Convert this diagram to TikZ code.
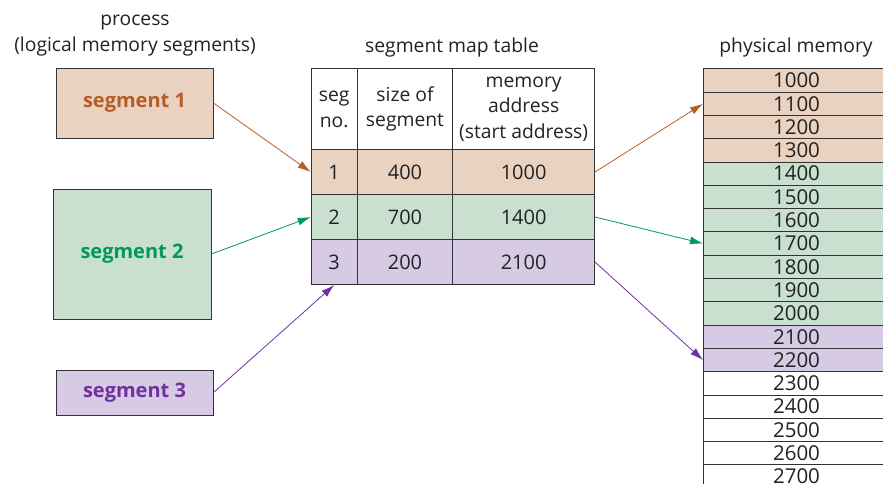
\documentclass[tikz,border=0pt]{standalone}
\usepackage{fontspec}
\setmainfont{Open Sans}
\usetikzlibrary{arrows.meta,positioning}
\definecolor{segink}{HTML}{333333}
\definecolor{segtext}{HTML}{222222}
\definecolor{segonefill}{HTML}{EAD2C0}
\definecolor{segoneink}{HTML}{B65D26}
\definecolor{segtwofill}{HTML}{C9DFCF}
\definecolor{segtwoink}{HTML}{00995A}
\definecolor{segthreefill}{HTML}{D6CAE4}
\definecolor{segthreeink}{HTML}{7030A0}
\tikzset{
  every picture/.style={font=\fontsize{19.3}{25.5}\selectfont,text=segtext},
  segbox/.style={rectangle,draw=segink,line width=1pt,inner sep=0pt,
    font=\fontsize{20}{22}\selectfont\bfseries},
  cell/.style={rectangle,draw=segink,line width=1pt,inner sep=0pt,
    anchor=north west,align=center},
  rowcell/.style={cell,minimum height=45pt,font=\fontsize{20}{20}\selectfont},
  memcell/.style={cell,minimum width=186pt,minimum height=23.3pt,
    font=\fontsize{20.5}{20}\selectfont},
  map/.style={line width=0.8pt,-{Latex[length=13pt,width=8pt]}},
  caption/.style={align=center,inner sep=0pt},
}
\begin{document}
\begin{tikzpicture}[x=1pt,y=-1pt]
  \useasboundingbox (0,0) rectangle (883,483);
  \clip (0,0) rectangle (883,483);
  % logical segments of the process
  \node[caption,font=\fontsize{19.3}{26.7}\selectfont] (proctitle) at (135,35.5)
    {process\\(logical memory segments)};
  \node[segbox,fill=segonefill,text=segoneink,minimum width=157pt,minimum height=70pt]
    (seg1) at (134.5,103) {segment 1};
  \node[segbox,fill=segtwofill,text=segtwoink,minimum width=158pt,minimum height=130pt]
    (seg2) at (132,254) {segment 2};
  \node[segbox,fill=segthreefill,text=segthreeink,minimum width=157pt,minimum height=45pt]
    (seg3) at (134.5,392.5) {segment 3};
  % segment map table
  \node[caption] (maptitle) at (452,47.5) {segment map table};
  \node[cell,minimum width=46pt,minimum height=80.7pt] (hno) at (310.7,68.3) {seg\\no.};
  \node[cell,minimum width=95.6pt,minimum height=80.7pt] (hsize) at (356.7,68.3)
    {size of\\segment};
  \node[cell,minimum width=141.7pt,minimum height=80.7pt] (haddr) at (452.3,68.3)
    {memory\\address\\(start address)};
  \foreach \i/\s/\a/\c in {1/400/1000/segonefill,2/700/1400/segtwofill,
                           3/200/2100/segthreefill} {
    \node[rowcell,fill=\c,minimum width=46pt] (no\i) at (310.7,{104+45*\i}) {\i};
    \node[rowcell,fill=\c,minimum width=95.6pt] (size\i) at (356.7,{104+45*\i}) {\s};
    \node[rowcell,fill=\c,minimum width=141.7pt] (addr\i) at (452.3,{104+45*\i}) {\a};
  }
  % physical memory
  \node[caption] (memtitle) at (796,47.5) {physical memory};
  \foreach \a/\c [count=\i from 0] in {1000/segonefill,1100/segonefill,
      1200/segonefill,1300/segonefill,1400/segtwofill,1500/segtwofill,
      1600/segtwofill,1700/segtwofill,1800/segtwofill,1900/segtwofill,
      2000/segtwofill,2100/segthreefill,2200/segthreefill,2300/white,
      2400/white,2500/white,2600/white,2700/white}
    \node[memcell,fill=\c] (m\a) at (703,{68.3+23.3*\i}) {\a};
  % mappings
  \draw[map,segoneink] (seg1.east) -- (no1.west);
  \draw[map,segtwoink] (seg2.east) -- (no2.west);
  \draw[map,segthreeink] (seg3.east) -- (no3.south);
  \draw[map,segoneink] (addr1.east) -- (m1100.west);
  \draw[map,segtwoink] (addr2.east) -- (m1700.west);
  \draw[map,segthreeink] (addr3.east) -- (m2200.west);
\end{tikzpicture}
\end{document}
